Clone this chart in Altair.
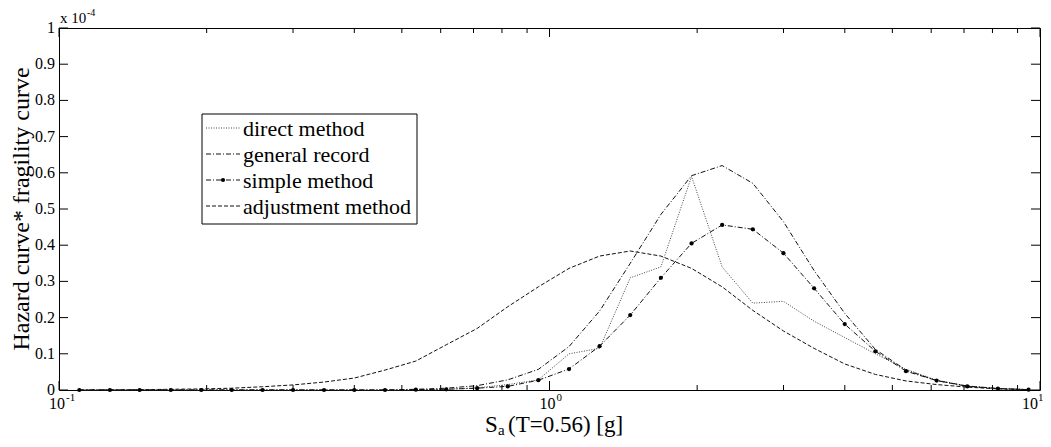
import altair as alt
import pandas as pd

# ---- data (values in units of 1e-4) ----
sa = [0.110, 0.127, 0.146, 0.169, 0.195, 0.225, 0.260, 0.300, 0.347, 0.400,
      0.462, 0.534, 0.616, 0.712, 0.822, 0.949, 1.096, 1.265, 1.461, 1.687,
      1.948, 2.249, 2.597, 2.999, 3.463, 3.998, 4.617, 5.331, 6.156, 7.108,
      8.208, 9.478]
direct = [0, 0, 0, 0, 0, 0, 0, 0, 0, 0,
          0, 0, 0.002, 0.006, 0.015, 0.028, 0.100, 0.115, 0.310, 0.340,
          0.590, 0.340, 0.240, 0.245, 0.190, 0.145, 0.100, 0.057, 0.027, 0.011,
          0.004, 0.001]
general = [0, 0, 0, 0, 0, 0, 0, 0, 0, 0,
           0, 0.002, 0.005, 0.012, 0.028, 0.057, 0.120, 0.218, 0.350, 0.485,
           0.592, 0.620, 0.571, 0.465, 0.330, 0.212, 0.112, 0.055, 0.026, 0.011,
           0.004, 0.001]
simple = [0, 0, 0, 0, 0, 0, 0, 0, 0, 0,
          0, 0.001, 0.002, 0.005, 0.010, 0.027, 0.058, 0.121, 0.207, 0.310,
          0.405, 0.456, 0.444, 0.378, 0.281, 0.182, 0.107, 0.052, 0.026, 0.010,
          0.004, 0.001]
adjust = [0, 0.0005, 0.001, 0.002, 0.003, 0.005, 0.009, 0.014, 0.022, 0.033,
          0.055, 0.080, 0.125, 0.170, 0.230, 0.285, 0.336, 0.370, 0.384, 0.370,
          0.336, 0.285, 0.220, 0.163, 0.115, 0.072, 0.043, 0.025, 0.015, 0.008,
          0.003, 0.001]

legend_labels = ["direct method", "general record", "simple method", "adjustment method"]
y_ticks = [0, 0.1, 0.2, 0.3, 0.4, 0.5, 0.6, 0.7, 0.8, 0.9, 1.0]
y_tick_labels = ["0", "0.1", "0.2", "0.3", "0.4", "0.5", "0.6", "0.7", "0.8", "0.9", "1"]
x_major = [0.1, 1, 10]
x_exp = ["-1", "0", "1"]
x_minor = [0.2, 0.3, 0.4, 0.5, 0.6, 0.7, 0.8, 0.9, 2, 3, 4, 5, 6, 7, 8, 9]
x_title = ["S", "a", "(T=0.56) [g]"]
y_title = "Hazard curve* fragility curve"
mult = ["x 10", "-4"]

W, H = 981, 362
FONT = "Liberation Serif"
INK = "#111111"

df = pd.DataFrame({"sa": sa, "direct": direct, "general": general,
                   "simple": simple, "adjust": adjust})

xscale = alt.Scale(type="log", domain=[0.1, 10], nice=False)
yscale = alt.Scale(domain=[0, 1], nice=False, zero=True)


def X(f):
    return alt.X(f, type="quantitative", scale=xscale, axis=None)


def Y(f):
    return alt.Y(f, type="quantitative", scale=yscale, axis=None)


base = alt.Chart(df)

l_adjust = base.mark_line(color=INK, strokeWidth=1, strokeDash=[4, 2]).encode(
    x=X("sa"), y=Y("adjust"))
l_direct = base.mark_line(color="#444444", strokeWidth=1, strokeDash=[1, 1.5]).encode(
    x=X("sa"), y=Y("direct"))
l_general = base.mark_line(color=INK, strokeWidth=1, strokeDash=[5, 2, 1, 2]).encode(
    x=X("sa"), y=Y("general"))
l_simple = base.mark_line(color=INK, strokeWidth=1, strokeDash=[5, 2, 1, 2]).encode(
    x=X("sa"), y=Y("simple"))
p_simple = base.mark_circle(color="black", size=18, opacity=1).encode(
    x=X("sa"), y=Y("simple"))

# ---- ticks (inward, on all four sides) and labels ----
yt = alt.Chart(pd.DataFrame({"v": y_ticks, "lab": y_tick_labels}))
tick_yl = yt.mark_rule(color="black", strokeWidth=1).encode(
    y=Y("v"), x=alt.value(0), x2=alt.value(9))
tick_yr = yt.mark_rule(color="black", strokeWidth=1).encode(
    y=Y("v"), x=alt.value(W - 9), x2=alt.value(W))
ylab = yt.mark_text(font=FONT, fontSize=16, color="black", align="right",
                    baseline="middle").encode(
    y=Y("v"), x=alt.value(-4), text="lab:N")

xm = alt.Chart(pd.DataFrame({"v": x_major, "e": x_exp}))
tick_xb = xm.mark_rule(color="black", strokeWidth=1).encode(
    x=X("v"), y=alt.value(H), y2=alt.value(H - 9))
tick_xt = xm.mark_rule(color="black", strokeWidth=1).encode(
    x=X("v"), y=alt.value(0), y2=alt.value(9))
xn = alt.Chart(pd.DataFrame({"v": x_minor}))
tick_nb = xn.mark_rule(color="black", strokeWidth=1).encode(
    x=X("v"), y=alt.value(H), y2=alt.value(H - 5))
tick_nt = xn.mark_rule(color="black", strokeWidth=1).encode(
    x=X("v"), y=alt.value(0), y2=alt.value(5))

# x tick labels: 10 with superscript exponent
lab10a = xm.transform_filter("datum.v < 5").mark_text(
    font=FONT, fontSize=16, color="black", align="center",
    baseline="alphabetic", dx=-2).encode(
    x=X("v"), y=alt.value(H + 19), text=alt.value("10"))
labexpa = xm.transform_filter("datum.v < 5").mark_text(
    font=FONT, fontSize=11, color="black", align="left",
    baseline="alphabetic", dx=7).encode(
    x=X("v"), y=alt.value(H + 11), text="e:N")
lab10b = xm.transform_filter("datum.v > 5").mark_text(
    font=FONT, fontSize=16, color="black", align="center",
    baseline="alphabetic", dx=-10).encode(
    x=X("v"), y=alt.value(H + 19), text=alt.value("10"))
labexpb = xm.transform_filter("datum.v > 5").mark_text(
    font=FONT, fontSize=11, color="black", align="left",
    baseline="alphabetic", dx=-2).encode(
    x=X("v"), y=alt.value(H + 11), text="e:N")

# ---- legend ----
box = alt.Chart(pd.DataFrame({"a": [0]})).mark_rect(
    fill="white", stroke="black", strokeWidth=1).encode(
    x=alt.value(143), x2=alt.value(358), y=alt.value(86), y2=alt.value(196))

rows = [100, 126, 152, 178]
dashes = [[1, 1.5], [5, 2, 1, 2], [5, 2, 1, 2], [4, 2]]
colors = ["#444444", INK, INK, INK]
leg_layers = []
for lab, yy, dsh, col in zip(legend_labels, rows, dashes, colors):
    c = alt.Chart(pd.DataFrame({"t": [lab]}))
    leg_layers.append(c.mark_rule(color=col, strokeWidth=1, strokeDash=dsh).encode(
        x=alt.value(147), x2=alt.value(181), y=alt.value(yy)))
    leg_layers.append(c.mark_text(font=FONT, fontSize=22, color="black", align="left",
                                  baseline="middle").encode(
        x=alt.value(184), y=alt.value(yy + 1), text="t:N"))
leg_pt = alt.Chart(pd.DataFrame({"t": ["simple method"]})).mark_circle(
    color="black", size=18, opacity=1).encode(x=alt.value(164), y=alt.value(rows[2]))

# ---- titles ----
ytitle = alt.Chart(pd.DataFrame({"t": [y_title]})).mark_text(
    font=FONT, fontSize=24, color="black", angle=270, align="center",
    baseline="middle").encode(x=alt.value(-37), y=alt.value(H / 2), text="t:N")

xt_s = alt.Chart(pd.DataFrame({"t": [x_title[0]]})).mark_text(
    font=FONT, fontSize=23, color="black", align="left", baseline="alphabetic").encode(
    x=alt.value(426), y=alt.value(H + 42), text="t:N")
xt_a = alt.Chart(pd.DataFrame({"t": [x_title[1]]})).mark_text(
    font=FONT, fontSize=15, color="black", align="left", baseline="alphabetic").encode(
    x=alt.value(439), y=alt.value(H + 45), text="t:N")
xt_r = alt.Chart(pd.DataFrame({"t": [x_title[2]]})).mark_text(
    font=FONT, fontSize=23, color="black", align="left", baseline="alphabetic").encode(
    x=alt.value(449), y=alt.value(H + 42), text="t:N")

m1 = alt.Chart(pd.DataFrame({"t": [mult[0]]})).mark_text(
    font=FONT, fontSize=15, color="black", align="left", baseline="alphabetic").encode(
    x=alt.value(1), y=alt.value(-5), text="t:N")
m2 = alt.Chart(pd.DataFrame({"t": [mult[1]]})).mark_text(
    font=FONT, fontSize=10, color="black", align="left", baseline="alphabetic").encode(
    x=alt.value(28), y=alt.value(-12), text="t:N")

chart = alt.layer(
    l_adjust, l_direct, l_general, l_simple, p_simple,
    tick_yl, tick_yr, ylab, tick_xb, tick_xt, tick_nb, tick_nt,
    lab10a, labexpa, lab10b, labexpb,
    box, *leg_layers, leg_pt,
    ytitle, xt_s, xt_a, xt_r, m1, m2,
).properties(
    width=W, height=H,
    autosize=alt.AutoSizeParams(type="none"),
    padding={"left": 51, "top": 20, "right": 3, "bottom": 49},
    background="white",
).configure_view(stroke="black", strokeWidth=1)

chart.save("out.html", embed_options={"renderer": "svg", "actions": False})
